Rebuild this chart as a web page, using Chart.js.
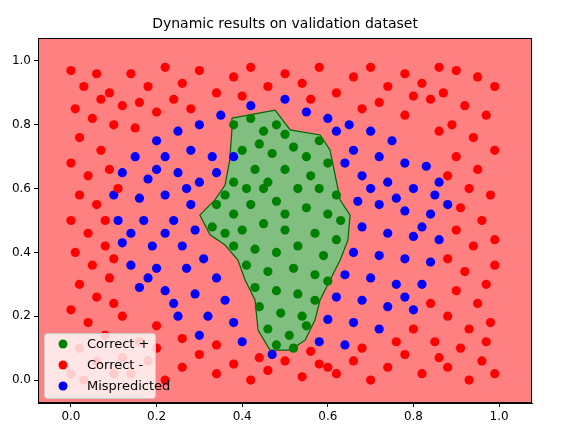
<!DOCTYPE html>
<html><head><meta charset="utf-8">
<script src="https://cdn.jsdelivr.net/npm/chart.js@4"></script>
<style>body{margin:0;background:#fff}#c{display:block}</style>
</head><body>
<div style="width:561px;height:435px"><canvas id="c"></canvas></div>
<script>
const xTicks = [0, 0.2, 0.4, 0.6, 0.8, 1.0];
const yTicks = [0, 0.2, 0.4, 0.6, 0.8, 1.0];
const seriesLabels = ["Correct +", "Correct -", "Mispredicted"];

// decision region boundary (positive class)
const regionBoundary = [[.376,.821],[.477,.846],[.512,.784],[.582,.768],[.605,.721],[.617,.643],[.629,.564],[.652,.517],[.647,.439],[.629,.376],[.605,.313],[.582,.251],[.570,.188],[.547,.125],[.512,.094],[.465,.094],[.437,.157],[.430,.251],[.407,.313],[.390,.376],[.360,.423],[.325,.455],[.301,.517],[.336,.564],[.360,.611],[.371,.690],[.376,.784],[.376,.821]];

const correctPos = [[.38,.8],[.42,.82],[.45,.78],[.48,.8],[.5,.77],[.44,.74],[.40,.72],[.47,.71],[.52,.73],[.55,.7],[.58,.75],[.6,.68],[.56,.64],[.5,.66],[.43,.66],[.38,.62],[.41,.6],[.46,.62],[.53,.6],[.58,.6],[.62,.58],[.34,.55],[.38,.52],[.42,.55],[.48,.56],[.55,.54],[.6,.52],[.63,.5],[.33,.48],[.36,.46],[.40,.47],[.45,.49],[.5,.47],[.57,.46],[.62,.44],[.38,.42],[.43,.41],[.48,.4],[.53,.42],[.59,.39],[.41,.36],[.46,.34],[.52,.35],[.57,.33],[.6,.31],[.43,.29],[.48,.28],[.53,.27],[.57,.25],[.44,.23],[.49,.21],[.54,.2],[.46,.16],[.51,.14],[.55,.17],[.48,.11],[.52,.1],[.45,.6],[.5,.52],[.36,.58]];

const correctNeg = [[0,.97],[.03,.92],[.06,.96],[.09,.9],[.01,.85],[.05,.82],[.1,.8],[.02,.76],[.07,.72],[0,.68],[.04,.64],[.09,.66],[.02,.58],[.06,.55],[0,.5],[.04,.46],[.08,.42],[.01,.4],[.05,.36],[.09,.32],[.02,.3],[.06,.26],[0,.22],[.04,.18],[.08,.14],[.02,.1],[.06,.06],[0,.02],[.1,.02],[.12,.07],[.03,0],[.08,.5],[.1,.38],[.1,.24],[.12,.86],[.07,.88],[.11,.6],
[.9,.97],[.95,.95],[.99,.92],[.87,.9],[.92,.86],[.97,.83],[.89,.8],[.94,.76],[.99,.72],[.9,.7],[.95,.66],[.88,.64],[.93,.6],[.98,.58],[.91,.54],[.96,.5],[.99,.44],[.9,.47],[.94,.42],[.88,.38],[.92,.34],[.97,.3],[.99,.36],[.9,.28],[.95,.24],[.88,.2],[.93,.16],[.98,.18],[.91,.1],[.96,.06],[.88,.04],[.93,0],[.99,.02],[.85,.12],[.86,.78],[.84,.88],[.97,.12],
[.14,.96],[.18,.92],[.22,.98],[.26,.93],[.3,.97],[.34,.9],[.38,.95],[.42,.98],[.46,.92],[.5,.96],[.54,.93],[.58,.98],[.62,.9],[.66,.95],[.7,.98],[.74,.92],[.78,.96],[.82,.93],[.86,.98],[.16,.87],[.24,.88],[.4,.89],[.56,.88],[.72,.87],[.8,.89],[.2,.84],[.28,.85],[.68,.85],[.78,.83],[.15,.79],
[.14,.02],[.18,.06],[.22,0],[.26,.04],[.3,.08],[.34,.02],[.38,.05],[.42,0],[.46,.03],[.5,.06],[.54,.01],[.58,.05],[.62,.02],[.66,.06],[.7,0],[.74,.04],[.78,.08],[.82,.02],[.86,.07],[.16,.12],[.2,.1],[.26,.13],[.34,.11],[.44,.07],[.56,.09],[.68,.1],[.76,.12],[.8,.16],[.2,.17],[.12,.2],[.84,.24],[.6,.04]];

const mispredicted = [[.2,.75],[.25,.78],[.3,.8],[.35,.83],[.5,.88],[.55,.84],[.6,.82],[.65,.8],[.7,.78],[.75,.75],[.15,.7],[.22,.7],[.28,.72],[.33,.7],[.66,.72],[.72,.7],[.78,.68],[.83,.67],[.12,.65],[.18,.63],[.25,.65],[.3,.62],[.68,.64],[.74,.62],[.8,.6],[.85,.58],[.1,.58],[.16,.57],[.22,.58],[.28,.55],[.67,.56],[.72,.55],[.78,.53],[.84,.52],[.11,.5],[.17,.5],[.24,.5],[.29,.47],[.68,.48],[.74,.46],[.8,.45],[.86,.44],[.12,.43],[.19,.42],[.26,.42],[.31,.38],[.66,.4],[.72,.39],[.78,.38],[.84,.37],[.14,.36],[.2,.35],[.27,.35],[.34,.32],[.64,.33],[.7,.32],[.76,.3],[.82,.3],[.16,.29],[.22,.28],[.29,.27],[.36,.25],[.62,.26],[.68,.25],[.74,.23],[.8,.22],[.25,.2],[.32,.2],[.38,.18],[.6,.19],[.66,.18],[.72,.16],[.3,.14],[.4,.12],[.58,.12],[.64,.11],[.47,.08],[.38,.7],[.34,.65],[.64,.68],[.7,.6],[.2,.66],[.27,.6],[.76,.57],[.14,.46],[.22,.46],[.82,.48],[.88,.55],[.18,.32],[.86,.62],[.62,.78],[.42,.86],[.24,.24],[.78,.26]];

const colors = ["#008000", "#ff0000", "#0000ff"];
const toXY = a => a.map(p => ({x: p[0], y: p[1]}));

const bgPlugin = {
  id: "bg",
  beforeDatasetsDraw(chart) {
    const {ctx, chartArea: a, scales: {x, y}} = chart;
    ctx.save();
    ctx.fillStyle = "#ff8080";
    ctx.fillRect(a.left, a.top, a.right - a.left, a.bottom - a.top);
    ctx.fillStyle = "#80bf80";
    ctx.beginPath();
    regionBoundary.forEach((p, i) => {
      const px = x.getPixelForValue(p[0]), py = y.getPixelForValue(p[1]);
      if (i === 0) ctx.moveTo(px, py); else ctx.lineTo(px, py);
    });
    ctx.closePath(); ctx.fill();
    ctx.restore();
  },
  afterDraw(chart) {
    const {ctx, chartArea: a} = chart;
    ctx.save();
    ctx.strokeStyle = "#000"; ctx.lineWidth = 1;
    ctx.strokeRect(a.left + .5, a.top + .5, a.right - a.left - 1, a.bottom - a.top - 1);
    ctx.fillStyle = "#000";
    ctx.font = "14px 'DejaVu Sans'";
    ctx.textAlign = "center"; ctx.textBaseline = "alphabetic";
    ctx.fillText("Dynamic results on validation dataset", (a.left + a.right) / 2, 28);
    // legend
    const lx = 44, ly = 333, lw = 111, lh = 65;
    ctx.fillStyle = "rgba(255,255,255,0.8)";
    ctx.strokeStyle = "#cccccc";
    ctx.beginPath(); ctx.roundRect(lx + .5, ly + .5, lw, lh, 3); ctx.fill(); ctx.stroke();
    ctx.font = "13px 'DejaVu Sans'"; ctx.textAlign = "left"; ctx.textBaseline = "middle";
    seriesLabels.forEach((t, i) => {
      const y = ly + 11 + i * 21;
      ctx.fillStyle = colors[i];
      ctx.beginPath(); ctx.arc(lx + 19, y, 4.5, 0, Math.PI * 2); ctx.fill();
      ctx.fillStyle = "#000";
      ctx.fillText(t, lx + 43, y + 1);
    });
    ctx.restore();
  }
};

const pt = (label, data, c) => ({type: "scatter", label, data: toXY(data), backgroundColor: c, borderColor: c, pointRadius: 4.6, borderWidth: 0, order: 1});

new Chart(document.getElementById("c"), {
  data: {
    datasets: [
      {type: "line", label: "region", data: toXY(regionBoundary), showLine: true, fill: false, tension: 0,
       borderColor: "#006400", borderWidth: 1.2, pointRadius: 0, order: 10},
      pt(seriesLabels[0], correctPos, colors[0]),
      pt(seriesLabels[1], correctNeg, colors[1]),
      pt(seriesLabels[2], mispredicted, colors[2])
    ]
  },
  options: {
    responsive: true, maintainAspectRatio: false, animation: false,
    layout: {padding: {top: 38, right: 29, left: 0, bottom: 0}},
    plugins: {legend: {display: false}, tooltip: {enabled: false}},
    scales: {
      x: {type: "linear", min: -0.077, max: 1.077,
        afterBuildTicks: s => { s.ticks = xTicks.map(v => ({value: v})); },
        afterFit: s => { s.height = 32; },
        grid: {drawOnChartArea: false, color: "#000", tickLength: 4},
        border: {color: "#000"},
        ticks: {color: "#000", font: {family: "DejaVu Sans", size: 12}, callback: v => v.toFixed(1), maxRotation: 0}},
      y: {type: "linear", min: -0.072, max: 1.072,
        afterBuildTicks: s => { s.ticks = yTicks.map(v => ({value: v})); },
        afterFit: s => { s.width = 38; },
        grid: {drawOnChartArea: false, color: "#000", tickLength: 4},
        border: {color: "#000"},
        ticks: {color: "#000", font: {family: "DejaVu Sans", size: 12}, callback: v => v.toFixed(1)}}
    }
  },
  plugins: [bgPlugin]
});
</script>
</body></html>
